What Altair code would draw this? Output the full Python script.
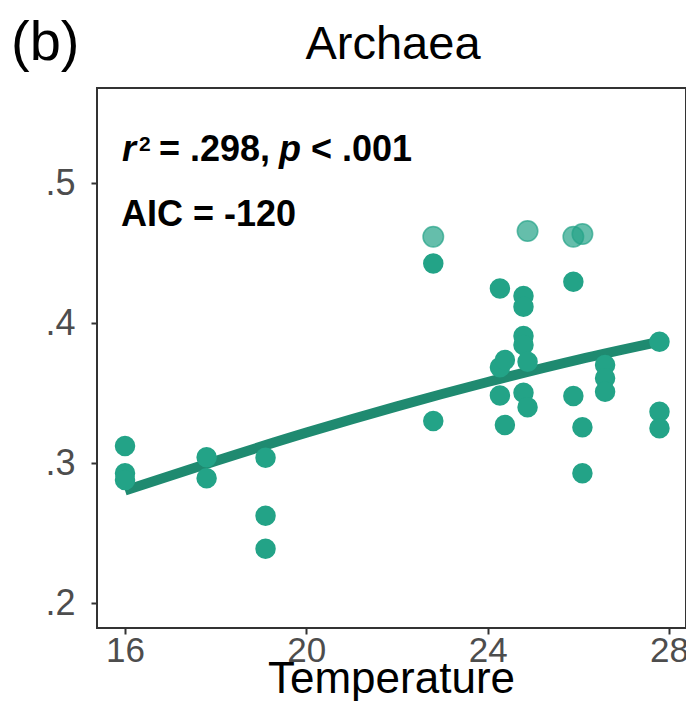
import altair as alt
import pandas as pd

# ---- data ----
temperature = [16, 16, 16,
               17.8, 17.8,
               19.1, 19.1, 19.1,
               22.8, 22.8, 22.8,
               24.27, 24.27, 24.27,
               24.38, 24.38,
               24.79, 24.79, 24.79, 24.79, 24.79,
               24.88, 24.88, 24.88,
               25.89, 25.89, 25.89,
               26.09, 26.09, 26.09,
               26.59, 26.59, 26.59,
               27.79, 27.79, 27.79]
archaea = [0.3124, 0.2929, 0.2881,
           0.3043, 0.2893,
           0.3040, 0.2626, 0.2389,
           0.4619, 0.4428, 0.3302,
           0.4249, 0.3686, 0.3484,
           0.3738, 0.3274,
           0.4195, 0.4119, 0.3909, 0.3845, 0.3504,
           0.4659, 0.3726, 0.3400,
           0.4619, 0.4297, 0.3481,
           0.4638, 0.3257, 0.2929,
           0.3702, 0.3607, 0.3511,
           0.3869, 0.3369, 0.3250]
faded = [False, False, False,
         False, False,
         False, False, False,
         True, False, False,
         False, False, False,
         False, False,
         False, False, False, False, False,
         True, False, False,
         True, False, False,
         True, False, False,
         False, False, False,
         False, False, False]

fit_temperature = [16, 18, 20, 22, 24, 26, 27.8]
fit_archaea = [0.2805, 0.3017, 0.3219, 0.3407, 0.3581, 0.3741, 0.3869]

x_ticks = [16, 20, 24, 28]
y_ticks = [0.2, 0.3, 0.4, 0.5]

title_text = "Archaea"
panel_label = "(b)"
x_title = "Temperature"

FONT = "Liberation Sans"
POINT = "#23A387"
LINE = "#1F8A70"

pts = pd.DataFrame({"T": temperature, "A": archaea, "faded": faded})
fit = pd.DataFrame({"T": fit_temperature, "A": fit_archaea})

xs = alt.Scale(domain=[15.382, 28.375], nice=False, zero=False)
ys = alt.Scale(domain=[0.18236, 0.5681], nice=False, zero=False)

x_enc = alt.X("T:Q", scale=xs,
              axis=alt.Axis(values=x_ticks, title=None, grid=False, domain=False,
                            labelFontSize=35, labelColor="#4D4D4D", labelFont=FONT,
                            tickColor="#333333", tickSize=6, tickWidth=2, labelPadding=-1))
y_enc = alt.Y("A:Q", scale=ys,
              axis=alt.Axis(values=y_ticks, title=None, grid=False, domain=False,
                            labelFontSize=36, labelColor="#4D4D4D", labelFont=FONT,
                            tickColor="#333333", tickSize=6, tickWidth=2, labelPadding=16,
                            labelExpr="replace(format(datum.value, '.1f'), '0.', '.')"))

solid = alt.Chart(pts).transform_filter("!datum.faded").mark_circle(
    size=420, color=POINT, opacity=1
).encode(x=x_enc, y=y_enc)

light = alt.Chart(pts).transform_filter("datum.faded").mark_point(
    shape="circle", size=420, filled=True, fill=POINT, fillOpacity=0.7,
    stroke=POINT, strokeOpacity=0.7, strokeWidth=1.5
).encode(x="T:Q", y="A:Q")

line = alt.Chart(fit).mark_line(color=LINE, strokeWidth=10, strokeCap="butt",
                                interpolate="monotone").encode(x="T:Q", y="A:Q")

def txt(s, x, y, size=36, style="normal", weight="bold", align="left"):
    return alt.Chart(pd.DataFrame({"s": [s]})).mark_text(
        align=align, baseline="alphabetic", font=FONT, fontSize=size,
        fontWeight=weight, fontStyle=style, color="#000000"
    ).encode(text="s:N", x=alt.value(x), y=alt.value(y))

annot = [
    txt("r", 25, 73, style="italic"),
    txt("2", 42, 63, size=21),
    txt("= .298,", 62, 73),
    txt("p", 182, 73, style="italic"),
    txt("< .001", 214, 73),
    txt("AIC = -120", 24, 138),
    txt(panel_label, -86, -28, size=56, weight="normal"),
    txt(title_text, 296, -29, size=47, weight="normal", align="center"),
    txt(x_title, 294.5, 605, size=44, weight="normal", align="center"),
]

chart = alt.layer(line, solid, light, *annot).properties(
    width=589, height=540,
    autosize=alt.AutoSizeParams(type="none"),
    padding={"left": 89, "top": 80, "right": 0, "bottom": 73},
    background="white",
).configure_view(stroke="#333333", strokeWidth=2)

chart.save("out.html", embed_options={"renderer": "svg", "actions": False})
